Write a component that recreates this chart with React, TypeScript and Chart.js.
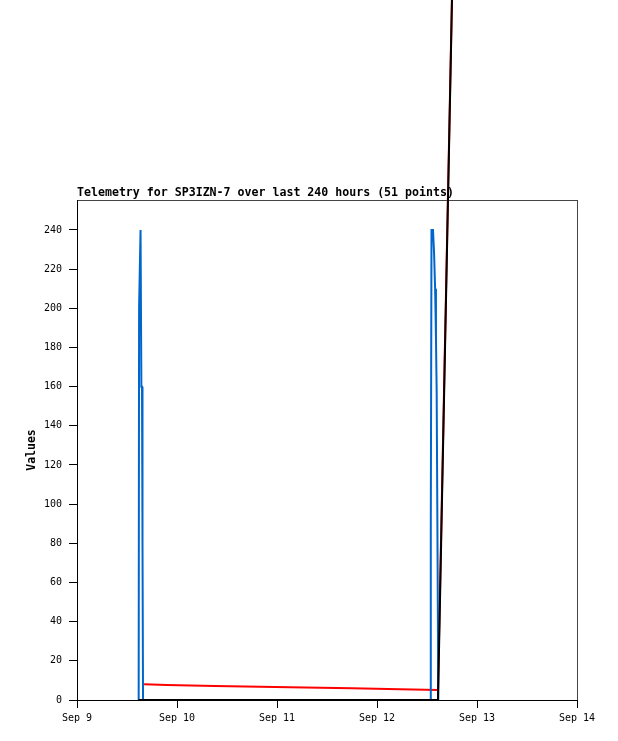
import { useEffect, useRef } from "react";
import { Chart, registerables } from "chart.js";

Chart.register(...registerables);

// Hours since Sep 9 00:00
const xTickLabels = ["Sep 9", "Sep 10", "Sep 11", "Sep 12", "Sep 13", "Sep 14"];
const yTickStep = 20;

const blueHours = [14.8, 14.9, 15.25, 15.45, 15.6, 15.72, 15.85, 84.79, 84.91, 85.08, 85.44, 85.7, 85.95, 86.15, 86.32, 86.62, 86.7];
const blueValues = [0, 200, 240, 160, 160, 80, 0, 0, 88, 240, 240, 228, 210, 185, 158, 39, 0];

const redHours = [16.1, 21.6, 33.1, 43.9, 54.7, 66.0, 77.5, 86.64, 93.0];
const redValues = [8.0, 7.6, 7.2, 6.8, 6.4, 6.0, 5.5, 5.1, 677];

const blackHours = [14.76, 86.64, 93.0];
const blackValues = [0, 0, 677];

const FONT = "'DejaVu Sans Mono', 'Liberation Mono', monospace";

const toPoints = (xs: number[], ys: number[]) => xs.map((x, i) => ({ x, y: ys[i] }));

export default function App() {
  const ref = useRef<HTMLCanvasElement>(null);

  useEffect(() => {
    document.body.style.margin = "0";
    const canvas = ref.current;
    if (!canvas) return;

    const framePlugin = {
      id: "frame",
      beforeDraw(chart: any) {
        const { ctx, chartArea } = chart;
        const { left, top, right, bottom } = chartArea;
        ctx.save();
        ctx.strokeStyle = "#444";
        ctx.lineWidth = 1;
        ctx.strokeRect(Math.round(left) + 0.5, Math.round(top) + 0.5, Math.round(right - left), Math.round(bottom - top));
        ctx.restore();
      },
    };

    const chart = new Chart(canvas, {
      type: "line",
      data: {
        datasets: [
          {
            label: "black",
            data: toPoints(blackHours, blackValues),
            borderColor: "#000000",
            borderWidth: 2,
            pointRadius: 0,
            tension: 0,
            clip: false as any,
            order: 0,
          },
          {
            label: "blue",
            data: toPoints(blueHours, blueValues),
            borderColor: "#0066cc",
            borderWidth: 2,
            pointRadius: 0,
            tension: 0,
            clip: false as any,
            order: 1,
          },
          {
            label: "red",
            data: toPoints(redHours, redValues),
            borderColor: "#ff0000",
            borderWidth: 2,
            pointRadius: 0,
            tension: 0,
            clip: false as any,
            order: 2,
          },
        ],
      },
      options: {
        responsive: false,
        animation: false,
        parsing: false as any,
        normalized: true,
        layout: { padding: { top: 186, left: 0, right: 41, bottom: 0 } },
        plugins: {
          legend: { display: false },
          tooltip: { enabled: false },
          title: {
            display: true,
            text: "Telemetry for SP3IZN-7 over last 240 hours (51 points)",
            align: "start",
            fullSize: false,
            color: "#000",
            font: { family: FONT, size: 11.6, weight: "bold" },
            padding: { top: 0, bottom: 0.1 },
          },
        },
        scales: {
          x: {
            type: "linear",
            min: 0,
            max: 120,
            ticks: {
              stepSize: 24,
              autoSkip: false,
              maxRotation: 0,
              color: "#000",
              padding: 4,
              font: { family: FONT, size: 10 },
              callback: (v: any) => xTickLabels[Math.round(Number(v) / 24)] ?? "",
            },
            grid: { display: true, drawOnChartArea: false, drawTicks: true, tickLength: 8, color: "#000" },
            border: { display: true, color: "#000", width: 1 },
            afterFit: (s: any) => {
              s.height = 41;
            },
          },
          y: {
            type: "linear",
            min: 0,
            max: 255.3,
            afterBuildTicks: (s: any) => {
              s.ticks = s.ticks.filter((t: any) => Math.abs(t.value % yTickStep) < 1e-6);
            },
            ticks: {
              stepSize: yTickStep,
              color: "#000",
              padding: 7,
              font: { family: FONT, size: 10 },
            },
            grid: { display: true, drawOnChartArea: false, drawTicks: true, tickLength: 8, color: "#000" },
            border: { display: true, color: "#000", width: 1 },
            title: {
              display: true,
              text: "Values",
              color: "#000",
              font: { family: FONT, size: 11.5, weight: "bold" },
              padding: { top: 25, bottom: 0 },
            },
            afterFit: (s: any) => {
              s.width = 77;
            },
          },
        },
      },
      plugins: [framePlugin],
    } as any);

    return () => chart.destroy();
  }, []);

  return <canvas ref={ref} width={618} height={741} style={{ display: "block" }} />;
}
